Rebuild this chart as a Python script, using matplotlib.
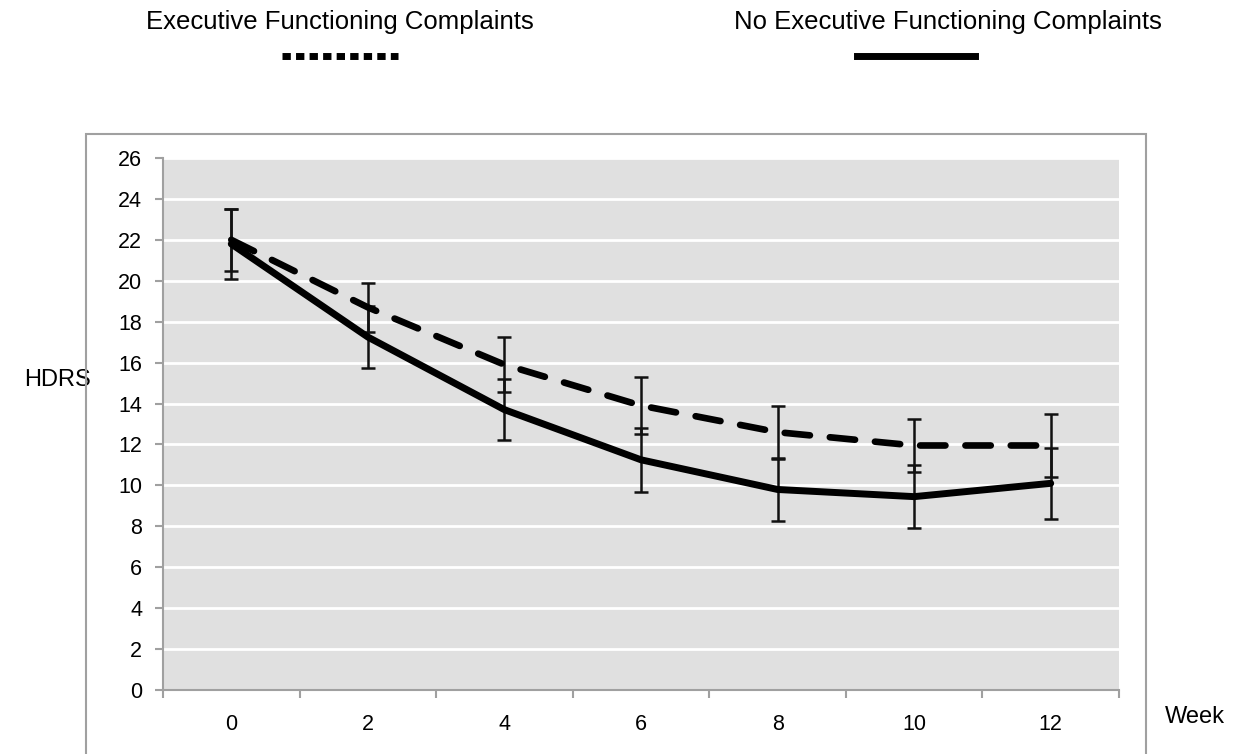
import matplotlib
matplotlib.use("Agg")
import matplotlib.pyplot as plt
from matplotlib.patches import Rectangle
from matplotlib.lines import Line2D

plt.rcParams['font.family'] = ['Liberation Sans', 'DejaVu Sans']

weeks = [0, 2, 4, 6, 8, 10, 12]
efc_mean = [22.0, 18.7, 15.9, 13.9, 12.6, 11.95, 11.95]
efc_err = [1.5, 1.2, 1.35, 1.4, 1.3, 1.3, 1.55]
noefc_mean = [21.8, 17.25, 13.7, 11.25, 9.8, 9.45, 10.1]
noefc_err = [1.7, 1.5, 1.5, 1.55, 1.55, 1.55, 1.75]
y_ticks = list(range(0, 27, 2))
label_efc = "Executive Functioning Complaints"
label_noefc = "No Executive Functioning Complaints"

W, H = 1250, 754
fig = plt.figure(figsize=(W / 100, H / 100), dpi=100)

# outer chart border
fig.patches.append(Rectangle((86 / W, -0.05), (1146 - 86) / W, 1 - 134 / H + 0.05,
                             transform=fig.transFigure, fill=False,
                             edgecolor='#a0a0a0', lw=1.5, zorder=0))

ax = fig.add_axes([163 / W, 1 - 690 / H, (1119 - 163) / W, (690 - 158) / H])
ax.set_facecolor('#e0e0e0')
ax.set_xlim(-1, 13)
ax.set_ylim(0, 26)

ax.set_yticks(y_ticks)
ax.set_yticklabels([str(v) for v in y_ticks], fontsize=15.5)
ax.yaxis.grid(True, color='white', lw=2)
ax.set_axisbelow(True)

ax.set_xticks([w + 1 for w in [-2] + weeks])
ax.set_xticklabels([])
ax.set_xticks(weeks, minor=True)
ax.set_xticklabels([str(w) for w in weeks], minor=True, fontsize=15.5)
ax.tick_params(axis='x', which='minor', length=0, pad=17)
ax.tick_params(axis='x', which='major', length=6, color='#a0a0a0', width=1.5)
ax.tick_params(axis='y', length=6, color='#a0a0a0', width=1.5, pad=9)

for s in ['top', 'right']:
    ax.spines[s].set_visible(False)
for s in ['left', 'bottom']:
    ax.spines[s].set_color('#a0a0a0')
    ax.spines[s].set_linewidth(1.5)

ax.errorbar(weeks, efc_mean, yerr=efc_err, fmt='none', ecolor='#111111',
            elinewidth=1.8, capsize=5, capthick=1.8, zorder=3)
ax.errorbar(weeks, noefc_mean, yerr=noefc_err, fmt='none', ecolor='#111111',
            elinewidth=1.8, capsize=5, capthick=1.8, zorder=3)
ax.plot(weeks, efc_mean, color='black', lw=4.8, ls=(0, (3.8, 3.0)),
        dash_capstyle='round', zorder=4)
ax.plot(weeks, noefc_mean, color='black', lw=5, solid_capstyle='round', zorder=4)

ax.text(-0.145, 0.583, "HDRS", transform=ax.transAxes, fontsize=17,
        ha='left', va='center')
ax.text(1.048, -0.05, "Week", transform=ax.transAxes, fontsize=17,
        ha='left', va='center')

# legend-like header
fig.text(340 / W, 1 - 22 / H, label_efc, fontsize=18.5, ha='center', va='center')
fig.text(948 / W, 1 - 22 / H, label_noefc, fontsize=18.5, ha='center', va='center')
fig.add_artist(Line2D([282 / W, 398 / W], [1 - 56 / H, 1 - 56 / H],
                      transform=fig.transFigure, color='black', lw=5,
                      ls=(0, (1.2, 0.75))))
fig.add_artist(Line2D([857 / W, 975 / W], [1 - 56 / H, 1 - 56 / H],
                      transform=fig.transFigure, color='black', lw=5))

fig.savefig("out.png", dpi=100)
